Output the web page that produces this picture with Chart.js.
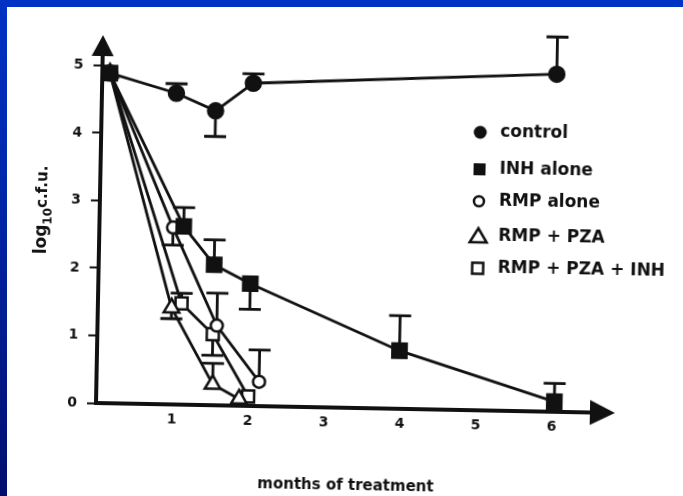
<!DOCTYPE html>
<html><head><meta charset="utf-8">
<script src="https://cdn.jsdelivr.net/npm/chart.js@4.4.1/dist/chart.umd.min.js"></script>
<style>
html,body{margin:0;padding:0;background:#fff;width:683px;height:496px;overflow:hidden;}
#wrap{position:relative;width:683px;height:496px;background:#fff;}
#c{position:absolute;left:0;top:0;transform-origin:96px 403px;transform:rotate(1.1deg);}
#topbar{position:absolute;left:0;top:0;width:683px;height:7px;background:#0033c4;z-index:2;}
#leftbar{position:absolute;left:0;top:0;width:7px;height:496px;background:linear-gradient(#0033c4,#0024a4 45%,#000f6e);z-index:2;}
</style></head>
<body><div id="wrap"><canvas id="c" width="683" height="496"></canvas><div id="topbar"></div><div id="leftbar"></div></div>
<script>
// ---- data ----
const xTickValues = [1, 2, 3, 4, 5, 6];
const xTickLabels = ['1', '2', '3', '4', '5', '6'];
const yTickValues = [0, 1, 2, 3, 4, 5];
const yTickLabels = ['0', '1', '2', '3', '4', '5'];
const seriesNames = ['control', 'INH alone', 'RMP alone', 'RMP + PZA', 'RMP + PZA + INH'];

const controlX   = [0.1, 0.98, 1.50, 1.99, 5.98];
const controlY   = [4.89, 4.61, 4.36, 4.78, 5.00];
const controlErr = [null, 4.75, 3.98, 4.92, 5.55];

const inhX   = [0.1, 1.11, 1.52, 2.00, 3.98, 6.03];
const inhY   = [4.89, 2.64, 2.08, 1.81, 0.86, 0.15];
const inhErr = [null, 2.92, 2.45, 1.43, 1.38, 0.42];

const rmpX   = [0.1, 0.97, 1.57, 2.14];
const rmpY   = [4.89, 2.62, 1.18, 0.36];
const rmpErr = [null, 2.36, 1.66, 0.83];

const rpX   = [0.1, 0.97, 1.53, 1.88];
const rpY   = [4.89, 1.43, 0.31, 0.10];
const rpErr = [null, 1.27, 0.62, null];

const rpiX   = [0.1, 1.10, 1.52, 2.00];
const rpiY   = [4.89, 1.50, 1.05, 0.14];
const rpiErr = [null, 1.65, 0.74, null];

const xTitle = 'months of treatment';
const yTitleParts = ['log', '10', 'c.f.u.'];

// ---- styling ----
const INK = '#111111';
const FONT = '"DejaVu Sans", "Liberation Sans", sans-serif';
const LW = 2.8;

function pts(xs, ys) { return xs.map((x, i) => ({ x: x, y: ys[i] })); }

const markerStyles = [
  { style: 'circle',   r: 7.5, fill: INK },
  { style: 'rect',     r: 10,  fill: INK },
  { style: 'circle',   r: 6,   fill: '#fff' },
  { style: 'triangle', r: 9,   fill: '#fff' },
  { style: 'rect',     r: 8.5, fill: '#fff' }
];
const seriesData = [
  [controlX, controlY, controlErr],
  [inhX, inhY, inhErr],
  [rmpX, rmpY, rmpErr],
  [rpX, rpY, rpErr],
  [rpiX, rpiY, rpiErr]
];

const datasets = seriesData.map((s, i) => ({
  label: seriesNames[i],
  data: pts(s[0], s[1]),
  errTo: s[2],
  borderColor: INK,
  borderWidth: LW,
  pointStyle: markerStyles[i].style,
  pointRadius: markerStyles[i].r,
  pointBackgroundColor: markerStyles[i].fill,
  pointBorderColor: INK,
  pointBorderWidth: 2.5,
  fill: false,
  tension: 0
}));

const decor = {
  id: 'decor',
  beforeDatasetsDraw(chart) {
    const ctx = chart.ctx, a = chart.chartArea, xs = chart.scales.x, ys = chart.scales.y;
    ctx.save();
    ctx.strokeStyle = INK; ctx.fillStyle = INK;
    // axes
    ctx.lineWidth = 4;
    ctx.beginPath(); ctx.moveTo(a.left, a.bottom + 2); ctx.lineTo(a.left, a.top + 18); ctx.stroke();
    ctx.beginPath(); ctx.moveTo(a.left - 2, a.bottom); ctx.lineTo(a.right - 20, a.bottom); ctx.stroke();
    ctx.beginPath(); ctx.moveTo(a.left, a.top); ctx.lineTo(a.left - 11, a.top + 21); ctx.lineTo(a.left + 11, a.top + 21); ctx.closePath(); ctx.fill();
    ctx.beginPath(); ctx.moveTo(a.right, a.bottom); ctx.lineTo(a.right - 25, a.bottom - 12.5); ctx.lineTo(a.right - 25, a.bottom + 12.5); ctx.closePath(); ctx.fill();
    // error bars
    ctx.lineWidth = LW;
    chart.data.datasets.forEach(ds => {
      ds.errTo.forEach((e, i) => {
        if (e === null) return;
        const px = xs.getPixelForValue(ds.data[i].x);
        const p0 = ys.getPixelForValue(ds.data[i].y);
        const p1 = ys.getPixelForValue(e);
        ctx.beginPath();
        ctx.moveTo(px, p0); ctx.lineTo(px, p1);
        ctx.moveTo(px - 11, p1); ctx.lineTo(px + 11, p1);
        ctx.stroke();
      });
    });
    ctx.restore();
  },
  afterDraw(chart) {
    const ctx = chart.ctx, a = chart.chartArea;
    ctx.save();
    ctx.fillStyle = INK; ctx.strokeStyle = INK;
    // x title
    ctx.font = 'bold 15px ' + FONT; ctx.textAlign = 'center'; ctx.textBaseline = 'middle';
    ctx.fillText(xTitle, a.left + 251, a.bottom + 78);
    // y title with subscript
    const fonts = ['bold 17px ' + FONT, 'bold 12px ' + FONT, 'bold 15px ' + FONT];
    const shifts = [0, 5, 0];
    let widths = yTitleParts.map((t, i) => { ctx.font = fonts[i]; return ctx.measureText(t).width; });
    const total = widths.reduce((p, q) => p + q, 0);
    ctx.translate(a.left - 58, a.top + 176);
    ctx.rotate(-Math.PI / 2);
    let x = -total / 2;
    ctx.textBaseline = 'alphabetic'; ctx.textAlign = 'left';
    yTitleParts.forEach((t, i) => { ctx.font = fonts[i]; ctx.fillText(t, x, 5 + shifts[i]); x += widths[i]; });
    ctx.restore();

    // legend
    ctx.save();
    ctx.fillStyle = INK; ctx.strokeStyle = INK; ctx.lineWidth = 2.5;
    const lx = a.left + 379, tx = a.left + 399;
    const rows = [a.top + 90, a.top + 127, a.top + 159, a.top + 194, a.top + 226];
    ctx.font = 'bold 17px ' + FONT; ctx.textBaseline = 'middle'; ctx.textAlign = 'left';
    rows.forEach((y, i) => {
      ctx.beginPath();
      if (i === 0) { ctx.arc(lx, y, 6.5, 0, Math.PI * 2); ctx.fill(); }
      else if (i === 1) { ctx.fillRect(lx - 6, y - 6, 12, 12); }
      else if (i === 2) { ctx.arc(lx, y, 5, 0, Math.PI * 2); ctx.stroke(); }
      else if (i === 3) { ctx.moveTo(lx, y - 8); ctx.lineTo(lx - 8.5, y + 6); ctx.lineTo(lx + 8.5, y + 6); ctx.closePath(); ctx.stroke(); }
      else { ctx.rect(lx - 5.5, y - 5.5, 11, 11); ctx.stroke(); }
      ctx.fillText(seriesNames[i], tx, y);
    });
    ctx.restore();
  }
};

new Chart(document.getElementById('c'), {
  type: 'line',
  data: { datasets: datasets },
  options: {
    responsive: false,
    animation: false,
    devicePixelRatio: 1,
    events: [],
    layout: { padding: { left: 0, right: 68, top: 35, bottom: 0 } },
    plugins: { legend: { display: false }, tooltip: { enabled: false } },
    scales: {
      x: {
        type: 'linear', min: 0, max: 6.83,
        afterFit(s) { s.height = 93; },
        afterBuildTicks(s) { s.ticks = xTickValues.map(v => ({ value: v })); },
        grid: { display: false, drawTicks: false },
        border: { display: false },
        ticks: {
          padding: 7, color: INK, font: { family: FONT, size: 14, weight: 'bold' },
          callback: (v) => xTickLabels[xTickValues.indexOf(v)]
        },
        title: { display: false, text: xTitle }
      },
      y: {
        type: 'linear', min: 0, max: 5.45,
        afterFit(s) { s.width = 96; },
        afterBuildTicks(s) { s.ticks = yTickValues.map(v => ({ value: v })); },
        grid: { display: true, drawOnChartArea: false, drawTicks: true, tickLength: 9, tickWidth: 2, tickColor: INK },
        border: { display: false },
        ticks: {
          padding: 10, color: INK, font: { family: FONT, size: 14, weight: 'bold' },
          callback: (v) => yTickLabels[yTickValues.indexOf(v)]
        }
      }
    }
  },
  plugins: [decor]
});
</script>
</body></html>
